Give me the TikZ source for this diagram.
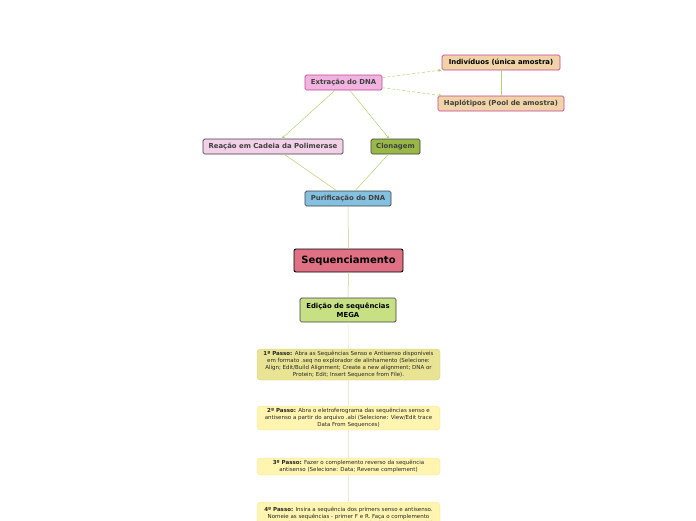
\documentclass[tikz,border=0pt]{standalone}
\usepackage{fontspec}
\setmainfont{DejaVu Sans}
\usetikzlibrary{arrows.meta}
\definecolor{linha}{HTML}{B4D474}
\definecolor{linhaclara}{HTML}{F2EBC4}
\definecolor{rosa}{HTML}{F0B4E0}
\definecolor{magenta}{HTML}{C8409C}
\definecolor{bege}{HTML}{F0D4A8}
\definecolor{rosaclaro}{HTML}{F2D0E8}
\definecolor{oliva}{HTML}{9AB848}
\definecolor{azul}{HTML}{84C0E0}
\definecolor{vermelho}{HTML}{E07084}
\definecolor{verdeclaro}{HTML}{C8E084}
\definecolor{amarelo}{HTML}{E8E494}
\definecolor{amareloborda}{HTML}{D8D278}
\definecolor{creme}{HTML}{FFF4B0}
\definecolor{cremeborda}{HTML}{F6EC9C}
\definecolor{cinza}{HTML}{404040}
\begin{document}
\begin{tikzpicture}[x=1pt,y=-1pt,
  caixa/.style={draw=cinza,line width=0.7pt,rounded corners=1.5pt,inner sep=0pt,
    minimum height=15pt,text=cinza,font=\fontsize{6.9}{8}\selectfont\bfseries},
  passo/.style={rounded corners=3.5pt,inner sep=0pt,minimum width=183pt,align=center,
    text=black!85,font=\fontsize{5.5}{7}\selectfont},
  liga/.style={draw=linha,line width=0.5pt},
  seta/.style={liga,-{Stealth[length=3.5pt,width=3pt]}},
  tracejada/.style={seta,dashed,dash pattern=on 3pt off 2pt}]
\useasboundingbox[fill=white] (0,0) rectangle (696,520);

% extracao e amostras
\node[caixa,fill=rosa,draw=magenta,minimum width=77pt] (extracao) at (343.5,82.5) {Extração do DNA};
\node[caixa,fill=bege,draw=magenta,minimum width=118pt,text=black] (individuos) at (501,62.5) {Indivíduos (única amostra)};
\node[caixa,fill=bege,draw=magenta,minimum width=126pt] (haplotipos) at (501,103.5) {Haplótipos (Pool de amostra)};
\draw[liga] (individuos) -- (haplotipos);
\draw[tracejada] (extracao) -- (individuos);
\draw[tracejada] (extracao) -- (haplotipos);

% pcr e clonagem
\node[caixa,fill=rosaclaro,minimum width=140pt] (pcr) at (273,146.5) {Reação em Cadeia da Polimerase};
\node[caixa,fill=oliva,minimum width=49pt] (clonagem) at (395.5,146.5) {Clonagem};
\draw[seta] (extracao) -- (pcr);
\draw[seta] (extracao) -- (clonagem);

\node[caixa,fill=azul,minimum width=86pt] (purificacao) at (348,198.5) {Purificação do DNA};
\draw[liga] (pcr) -- (purificacao);
\draw[liga] (clonagem) -- (purificacao);

% sequenciamento
\node[caixa,fill=vermelho,draw=black,line width=0.9pt,rounded corners=2pt,minimum width=109pt,
  minimum height=23pt,text=black,font=\fontsize{10}{11}\selectfont\bfseries] (seq) at (348.5,260.5) {Sequenciamento};
\draw[liga] (purificacao) -- (seq);

\node[caixa,fill=verdeclaro,minimum width=96pt,minimum height=24pt,align=center,text=black,
  font=\fontsize{6.9}{9}\selectfont\bfseries] (edicao) at (348,310) {Edição de sequências\\MEGA};
\draw[liga] (seq) -- (edicao);

% passos
\node[passo,fill=amarelo,draw=amareloborda,minimum height=31pt] (passo1) at (348.5,364.5)
  {\textbf{1º Passo:} Abra as Sequências Senso e Antisenso disponíveis\\
   em formato .seq no explorador de alinhamento (Selecione:\\
   Align; Edit/Build Alignment; Create a new alignment; DNA or\\
   Protein; Edit; Insert Sequence from File).};
\node[passo,fill=creme,draw=cremeborda,minimum height=24pt] (passo2) at (348.5,418)
  {\textbf{2º Passo:} Abra o eletroferograma das sequências senso e\\
   antisenso a partir do arquivo .abi (Selecione: View/Edit trace\\
   Data From Sequences)};
\node[passo,fill=creme,draw=cremeborda,minimum height=17pt] (passo3) at (348.5,466.5)
  {\textbf{3º Passo:} Fazer o complemento reverso da sequência\\
   antisenso (Selecione: Data; Reverse complement)};
\node[passo,fill=creme,draw=cremeborda,minimum height=30pt,anchor=north] (passo4) at (348.5,502)
  {\textbf{4º Passo:} Insira a sequência dos primers senso e antisenso.\\
   Nomeie as sequências - primer F e R. Faça o complemento\\
   reverso do primer antisenso (R). Depois alinhe os primers (F)};
\draw[draw=linhaclara,line width=0.5pt] (edicao) -- (passo1);
\draw[draw=linhaclara,line width=0.5pt] (passo1) -- (passo2);
\draw[draw=linhaclara,line width=0.5pt] (passo2) -- (passo3);
\draw[draw=linhaclara,line width=0.5pt] (passo3) -- (passo4);
\end{tikzpicture}
\end{document}
